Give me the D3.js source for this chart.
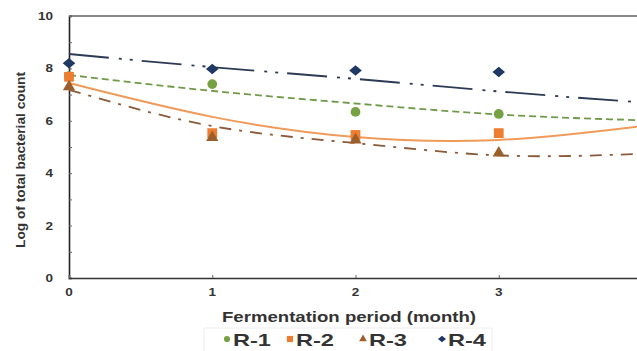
<!DOCTYPE html>
<html>
<head>
<meta charset="utf-8">
<script src="https://cdn.jsdelivr.net/npm/d3@7"></script>
<style>
  body { margin: 0; background: #fff; }
  svg { display: block; font-family: "Liberation Sans", Arial, sans-serif; }
</style>
</head>
<body>
<div id="chart"></div>
<script>
var vWidth = 637;
var vHeight = 351;

// months on the x axis
var months = [0, 1, 2, 3];
var seriesNames = ["R-1", "R-2", "R-3", "R-4"];
var seriesColors = ["#77a243", "#ed7d31", "#9c5f2c", "#1f3864"];
var lineColors = ["#6f9a48", "#f09a5a", "#8a5a3a", "#2c3a55"];
var lineDash = ["7 4", null, "12 8 3 8", "40 10 3 8 3 9"];

// measured values
var r1 = [7.7, 7.4, 6.34, 6.26];
var r2 = [7.68, 5.53, 5.46, 5.53];
var r3 = [7.3, 5.36, 5.27, 4.77];
var r4 = [8.2, 7.98, 7.92, 7.86];

// trend line readings at x = 0..4
var trendX = [0, 1, 2, 3, 4];
var t1 = [7.75, 7.14, 6.66, 6.24, 6.02];
var t2 = [7.44, 6.15, 5.38, 5.27, 5.8];
var t3 = [7.18, 5.8, 5.15, 4.68, 4.74];
var t4 = [8.55, 8.05, 7.6, 7.12, 6.7];

var values = [r1, r2, r3, r4];
var trends = [t1, t2, t3, t4];
var yTicks = [0, 2, 4, 6, 8, 10];

var margin = { left: 69, top: 16, bottom: 73 };
var plotRight = 642;

var svg = d3.select("#chart")
    .append("svg")
    .attr("width", vWidth)
    .attr("height", vHeight);

var x = d3.scaleLinear().domain([0, 4]).range([margin.left, plotRight]);
var y = d3.scaleLinear().domain([0, 10]).range([vHeight - margin.bottom, margin.top]);

// top border of the plot box
svg.append("line")
    .attr("x1", x(0)).attr("x2", plotRight)
    .attr("y1", y(10)).attr("y2", y(10))
    .attr("stroke", "#8a8a8a").attr("stroke-width", 2);

// y axis, ticks inside
var yAxis = svg.append("g")
    .attr("transform", "translate(" + x(0) + ",0)")
    .call(d3.axisRight(y).tickValues(d3.range(0, 11, 1)).tickSize(3).tickFormat(""));
yAxis.select(".domain").attr("stroke", "#222").attr("stroke-width", 1.6);
yAxis.selectAll(".tick line").attr("stroke", "#666");

svg.append("g").selectAll("text")
    .data(yTicks).enter().append("text")
    .attr("x", x(0) - 16)
    .attr("y", d => y(d) + 4)
    .attr("text-anchor", "end")
    .attr("font-size", 11)
    .attr("font-weight", "bold")
    .attr("fill", "#333")
    .attr("textLength", d => String(d).length * 7.5)
    .attr("lengthAdjust", "spacingAndGlyphs")
    .text(d => d);

// x axis, ticks inside
var xAxis = svg.append("g")
    .attr("transform", "translate(0," + y(0) + ")")
    .call(d3.axisTop(x).tickValues(months).tickSize(3).tickFormat(""));
xAxis.select(".domain").attr("stroke", "#333").attr("stroke-width", 1.6);
xAxis.selectAll(".tick line").attr("stroke", "#666");

svg.append("g").selectAll("text")
    .data(months).enter().append("text")
    .attr("x", d => x(d))
    .attr("y", y(0) + 18)
    .attr("text-anchor", "middle")
    .attr("font-size", 11)
    .attr("font-weight", "bold")
    .attr("fill", "#333")
    .attr("textLength", 7.5)
    .attr("lengthAdjust", "spacingAndGlyphs")
    .text(d => d);

// axis titles
svg.append("text")
    .attr("x", 349)
    .attr("y", 322)
    .attr("text-anchor", "middle")
    .attr("font-size", 15)
    .attr("font-weight", "bold")
    .attr("fill", "#333")
    .attr("textLength", 254)
    .attr("lengthAdjust", "spacingAndGlyphs")
    .text("Fermentation period (month)");

svg.append("text")
    .attr("transform", "translate(25,160) rotate(-90)")
    .attr("text-anchor", "middle")
    .attr("font-size", 12)
    .attr("font-weight", "bold")
    .attr("fill", "#333")
    .attr("textLength", 176)
    .attr("lengthAdjust", "spacingAndGlyphs")
    .text("Log of total bacterial count");

// trend lines
var line = d3.line()
    .x((d, i) => x(trendX[i]))
    .y(d => y(d))
    .curve(d3.curveNatural);

trends.forEach(function (t, i) {
    svg.append("path")
        .datum(t)
        .attr("d", line)
        .attr("fill", "none")
        .attr("stroke", lineColors[i])
        .attr("stroke-width", i === 1 ? 2 : 1.8)
        .attr("stroke-dasharray", lineDash[i]);
});

// markers - a wide diamond like the spreadsheet one
var wideDiamond = {
    draw: function (ctx, size) {
        var h = Math.sqrt(size) / 2;
        ctx.moveTo(0, -h);
        ctx.lineTo(h * 1.2, 0);
        ctx.lineTo(0, h);
        ctx.lineTo(-h * 1.2, 0);
        ctx.closePath();
    }
};
var symbols = [d3.symbolCircle, d3.symbolSquare, d3.symbolTriangle, wideDiamond];
var sizes = [75, 95, 65, 110];

values.forEach(function (vals, i) {
    svg.append("g").selectAll("path")
        .data(vals).enter().append("path")
        .attr("transform", (d, j) => "translate(" + x(months[j]) + "," + y(d) + ")")
        .attr("d", d3.symbol().type(symbols[i]).size(sizes[i]))
        .attr("fill", seriesColors[i]);
});

// legend
var legend = svg.append("g");
legend.append("rect")
    .attr("x", 204).attr("y", 328)
    .attr("width", 288).attr("height", 24)
    .attr("fill", "#fff")
    .attr("stroke", "#eee");

var legendX = [227, 290, 363, 442];
seriesNames.forEach(function (name, i) {
    legend.append("path")
        .attr("transform", "translate(" + legendX[i] + ",339)")
        .attr("d", d3.symbol().type(symbols[i]).size(sizes[i] * 0.4))
        .attr("fill", seriesColors[i]);
    legend.append("text")
        .attr("x", legendX[i] + 6)
        .attr("y", 345.5)
        .attr("font-size", 17)
        .attr("font-weight", "bold")
        .attr("fill", "#333")
        .attr("textLength", 38)
        .attr("lengthAdjust", "spacingAndGlyphs")
        .text(name);
});
</script>
</body>
</html>
